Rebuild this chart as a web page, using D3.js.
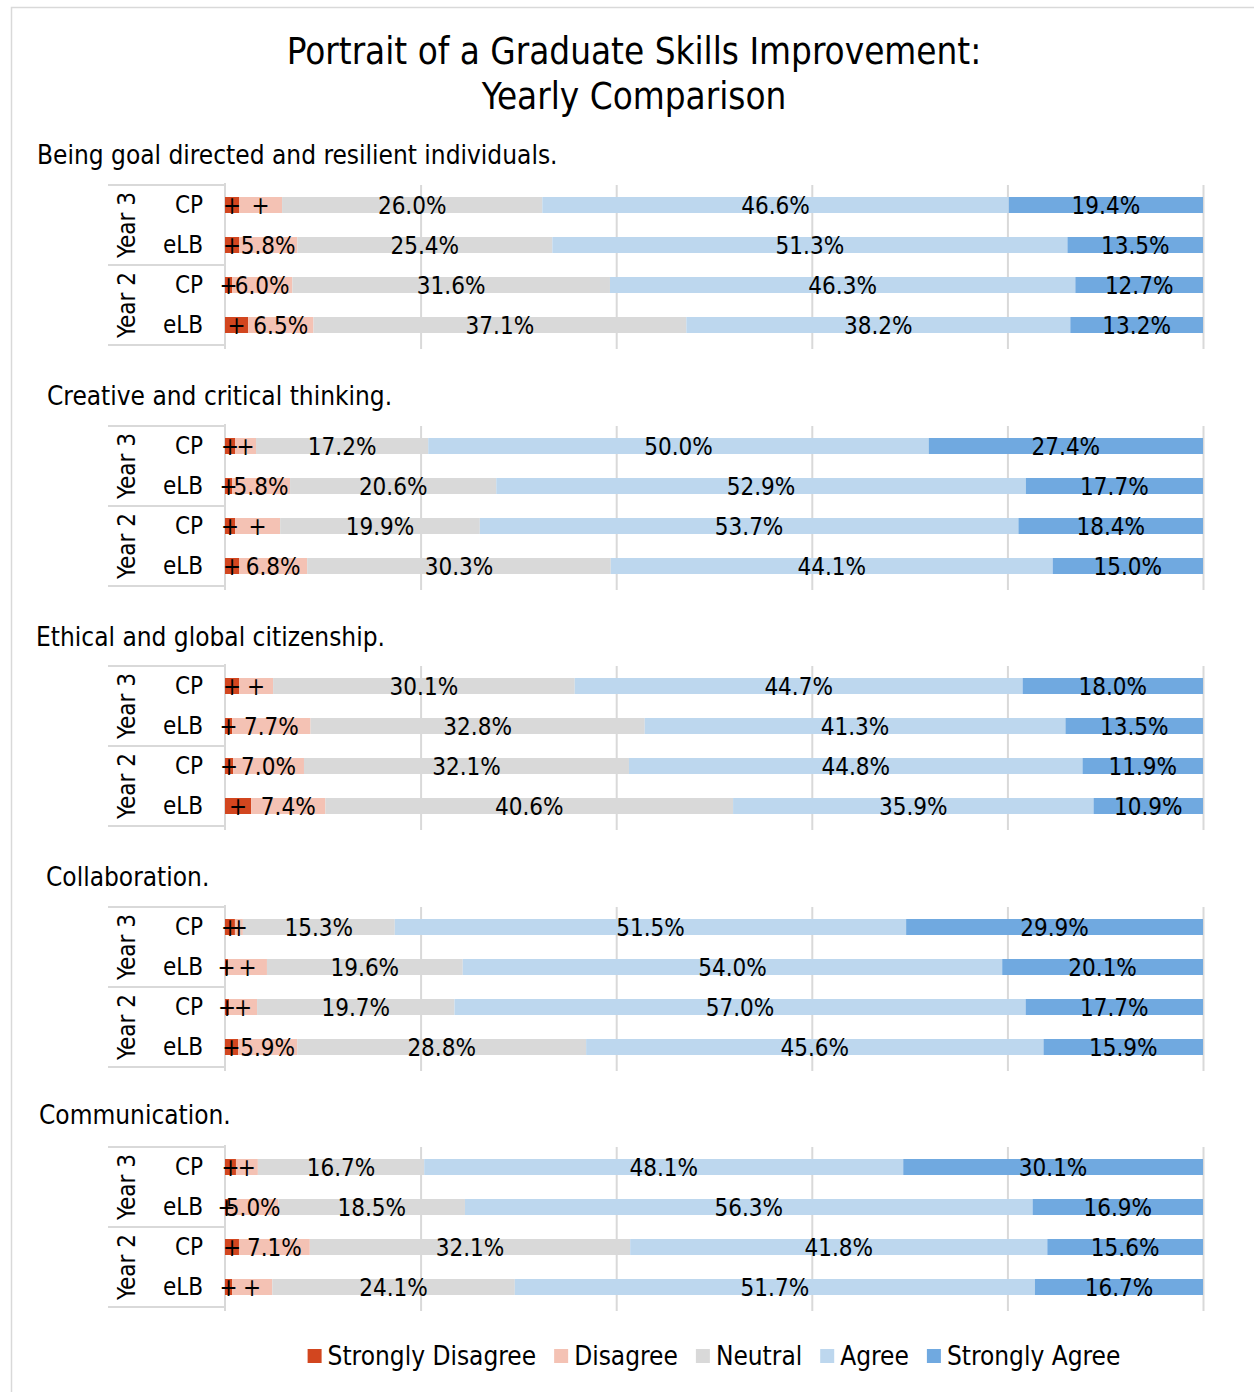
<!DOCTYPE html>
<html>
<head>
<meta charset="utf-8">
<script src="https://cdn.jsdelivr.net/npm/d3@7"></script>
<style>
  html, body { margin: 0; padding: 0; background: #fff; }
  svg text { font-family: 'DejaVu Sans Condensed', 'DejaVu Sans', sans-serif; font-stretch: condensed; fill: #000; }
</style>
</head>
<body>
<svg id="chart" width="1254" height="1392"></svg>
<script>
// Survey skills, each with four cohorts (year × program)
const skills = [
  "Being goal directed and resilient individuals.",
  "Creative and critical thinking.",
  "Ethical and global citizenship.",
  "Collaboration.",
  "Communication."
];
const years = ["Year 3", "Year 2"];
const programs = ["CP", "eLB"];
const levels = ["Strongly Disagree", "Disagree", "Neutral", "Agree", "Strongly Agree"];

// Percentages per skill, rows ordered: Year 3 CP, Year 3 eLB, Year 2 CP, Year 2 eLB
const stronglyDisagree = [
  [1.4, 1.4, 0.7, 2.3],
  [1.0, 0.7, 1.0, 1.4],
  [1.4, 0.7, 0.8, 2.6],
  [1.0, 0.3, 0.4, 1.3],
  [1.1, 0.3, 1.4, 0.7]
];
const disagree = [
  [4.3, 5.8, 6.0, 6.5],
  [2.1, 5.8, 4.5, 6.8],
  [3.4, 7.7, 7.0, 7.4],
  [0.8, 3.9, 2.8, 5.9],
  [2.2, 5.0, 7.1, 4.0]
];
const neutral = [
  [26.0, 25.4, 31.6, 37.1],
  [17.2, 20.6, 19.9, 30.3],
  [30.1, 32.8, 32.1, 40.6],
  [15.3, 19.6, 19.7, 28.8],
  [16.7, 18.5, 32.1, 24.1]
];
const agree = [
  [46.6, 51.3, 46.3, 38.2],
  [50.0, 52.9, 53.7, 44.1],
  [44.7, 41.3, 44.8, 35.9],
  [51.5, 54.0, 57.0, 45.6],
  [48.1, 56.3, 41.8, 51.7]
];
const stronglyAgree = [
  [19.4, 13.5, 12.7, 13.2],
  [27.4, 17.7, 18.4, 15.0],
  [18.0, 13.5, 11.9, 10.9],
  [29.9, 20.1, 17.7, 15.9],
  [30.1, 16.9, 15.6, 16.7]
];
const gridTicks = [0.2, 0.4, 0.6, 0.8, 1.0];

const colors = ["#d2461f", "#f4c2b4", "#d9d9d9", "#bdd7ee", "#70a9e0"];
const seriesData = [stronglyDisagree, disagree, neutral, agree, stronglyAgree];

const svg = d3.select("#chart");

// Chart area frame
svg.append("rect")
  .attr("x", 11.5).attr("y", 7.5)
  .attr("width", 1270).attr("height", 1400)
  .attr("fill", "#fff").attr("stroke", "#d9d9d9").attr("stroke-width", 1.5);

// Title
const title = svg.append("text")
  .attr("text-anchor", "middle")
  .attr("font-size", 36.5);
title.append("tspan").attr("x", 634).attr("y", 64).text("Portrait of a Graduate Skills Improvement:");
title.append("tspan").attr("x", 634).attr("y", 109).text("Yearly Comparison");

const x = d3.scaleLinear().domain([0, 1]).range([225, 1203]);
const panelTop = [185, 426, 666, 907, 1147];
const titleY = [155, 396, 637, 877, 1115];
const titleX = [37, 47, 36, 46, 39];

const rowKeys = [];
years.forEach(yr => programs.forEach(p => rowKeys.push(yr + "|" + p)));

// Small shares are marked with "+" instead of a number
const fmt = v => v >= 5 ? v.toFixed(1) + "%" : "+";

skills.forEach((skill, k) => {
  const top = panelTop[k];
  const g = svg.append("g");

  const y = d3.scaleBand().domain(rowKeys).range([top, top + 160])
    .paddingInner(0.6).paddingOuter(0.3);

  // Panel heading
  g.append("text")
    .attr("x", titleX[k]).attr("y", titleY[k] + 9)
    .attr("font-size", 26)
    .text(skill);

  // Vertical gridlines
  const grid = g.append("g")
    .attr("transform", `translate(0,${top})`)
    .call(d3.axisBottom(x).tickValues(gridTicks).tickSize(164).tickFormat(""));
  grid.select(".domain").remove();
  grid.selectAll(".tick line").attr("stroke", "#d9d9d9").attr("stroke-width", 2);

  // Category axis line and group separators
  g.append("line").attr("x1", 225).attr("x2", 225).attr("y1", top - 2).attr("y2", top + 164)
    .attr("stroke", "#d9d9d9").attr("stroke-width", 2);
  [0, 80, 160].forEach(d => {
    g.append("line").attr("x1", 108).attr("x2", 225).attr("y1", top + d).attr("y2", top + d)
      .attr("stroke", "#d9d9d9").attr("stroke-width", 2);
  });

  // Stacked, normalised rows
  const rows = rowKeys.map((key, i) => {
    const o = { key };
    levels.forEach((lv, s) => { o[lv] = seriesData[s][k][i]; });
    return o;
  });
  const stack = d3.stack().keys(levels).offset(d3.stackOffsetExpand);
  const layers = stack(rows);

  layers.forEach((layer, s) => {
    g.append("g").selectAll("rect")
      .data(layer)
      .join("rect")
      .attr("x", d => x(d[0]))
      .attr("width", d => x(d[1]) - x(d[0]))
      .attr("y", d => y(d.data.key))
      .attr("height", y.bandwidth())
      .attr("fill", colors[s]);
  });

  layers.forEach((layer, s) => {
    g.append("g").selectAll("text")
      .data(layer)
      .join("text")
      .attr("x", d => (x(d[0]) + x(d[1])) / 2)
      .attr("y", d => y(d.data.key) + y.bandwidth() / 2 + 9)
      .attr("text-anchor", "middle")
      .attr("font-size", 24)
      .text(d => fmt(d.data[levels[s]]));
  });

  // Program labels
  g.append("g").selectAll("text")
    .data(rowKeys)
    .join("text")
    .attr("x", 203)
    .attr("y", d => y(d) + y.bandwidth() / 2 + 8)
    .attr("text-anchor", "end")
    .attr("font-size", 24)
    .text(d => d.split("|")[1]);

  // Year labels, rotated
  years.forEach((yr, j) => {
    const cy = top + 40 + j * 80;
    g.append("text")
      .attr("transform", `translate(135,${cy}) rotate(-90)`)
      .attr("text-anchor", "middle")
      .attr("font-size", 24)
      .text(yr);
  });
});

// Legend
const legend = svg.append("g");
const items = [];
levels.forEach((lv, i) => {
  const item = legend.append("g");
  item.append("rect").attr("x", 0).attr("y", -7).attr("width", 14).attr("height", 14).attr("fill", colors[i]);
  const t = item.append("text").attr("x", 20).attr("y", 9).attr("font-size", 26).text(lv);
  const w = 20 + t.node().getComputedTextLength();
  items.push({ item, w });
});
const gap = 18;
const totalW = d3.sum(items, d => d.w) + gap * (items.length - 1);
let lx = 714 - totalW / 2;
items.forEach(d => {
  d.item.attr("transform", `translate(${lx},1356)`);
  lx += d.w + gap;
});
</script>
</body>
</html>
